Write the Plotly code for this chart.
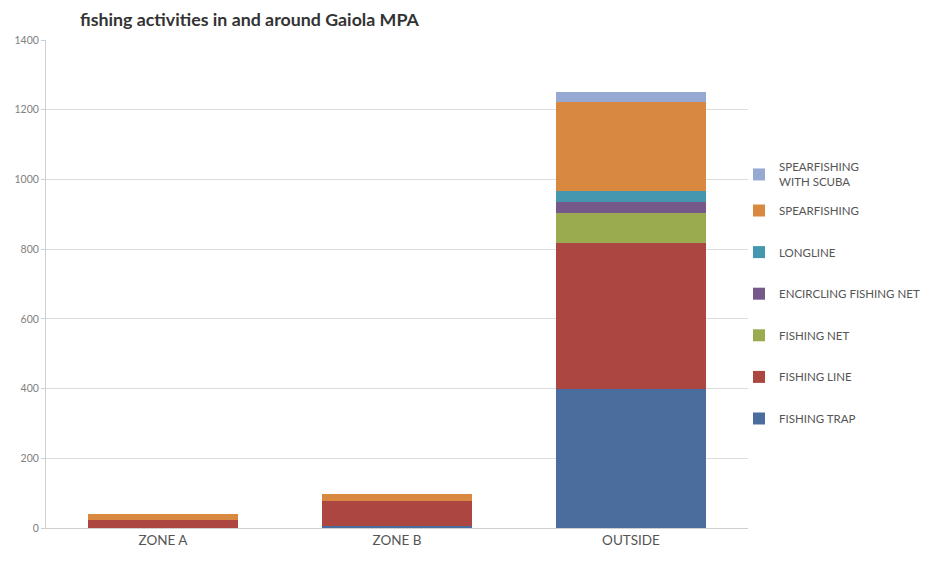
import plotly.graph_objects as go

categories = ["ZONE A", "ZONE B", "OUTSIDE"]

fishing_trap = [0, 6, 398]
fishing_line = [24, 72, 420]
fishing_net = [0, 0, 86]
encircling_net = [0, 0, 30]
longline = [0, 0, 32]
spearfishing = [15, 19, 257]
spearfishing_scuba = [0, 0, 27]

y_ticks = [0, 200, 400, 600, 800, 1000, 1200, 1400]

series = [
    ("FISHING TRAP", fishing_trap, "#4a6d9e"),
    ("FISHING LINE", fishing_line, "#ac4641"),
    ("FISHING NET", fishing_net, "#9aaa4e"),
    ("ENCIRCLING FISHING NET", encircling_net, "#76598a"),
    ("LONGLINE", longline, "#4597b0"),
    ("SPEARFISHING", spearfishing, "#d98840"),
    ("SPEARFISHING<br>WITH SCUBA", spearfishing_scuba, "#96a9d2"),
]

# page body has an 8px margin; compensate so the plot lands where the reference has it
OFF = 8
L, R_EDGE, T, B_EDGE = 46 - OFF, 748 - OFF, 40 - OFF, 528 - OFF
W, H = 935, 562
PW, PH = R_EDGE - L, B_EDGE - T

fig = go.Figure()
n = len(series)
for i, (name, vals, col) in enumerate(series):
    fig.add_trace(go.Bar(
        x=categories, y=vals, name=name, marker_color=col,
        marker_line_width=0, legendgroup=str(i), legendrank=n - i,
        legend="legend" if i == n - 1 else "legend2",
    ))

legend_x = (771 - 40 - L) / PW
leg_common = dict(x=legend_x, xanchor="left", yanchor="top",
                  traceorder="grouped", tracegroupgap=22.6,
                  font=dict(size=11.5, color="#555555", family="Lato"),
                  itemwidth=30, bgcolor="rgba(0,0,0,0)")

fig.update_layout(
    width=W, height=H,
    barmode="stack", bargap=0.36,
    paper_bgcolor="white", plot_bgcolor="white",
    margin=dict(l=L, r=W - R_EDGE, t=T, b=H - B_EDGE, pad=0, autoexpand=False),
    font=dict(family="Lato", color="#555555", size=11),
    title=dict(text="<b>fishing activities in and around Gaiola MPA</b>",
               x=(80 - OFF) / W, xanchor="left", xref="container",
               y=1 - (19.5 - OFF) / H, yanchor="middle", yref="container",
               font=dict(size=17.8, color="#333333", family="Lato")),
    legend=dict(y=(B_EDGE - (153 - OFF)) / PH, **leg_common),
    legend2=dict(y=(B_EDGE - (196 - OFF)) / PH, **leg_common),
    showlegend=True,
)
fig.update_yaxes(range=[0, 1400], tickvals=y_ticks, showgrid=True,
                 gridcolor="#dcdcdc", gridwidth=1, showline=True,
                 linecolor="#cfcfcf", ticks="outside", ticklen=4,
                 tickcolor="#cfcfcf", tickfont=dict(size=10.5, color="#808080"),
                 zeroline=False)
fig.update_xaxes(showline=True, linecolor="#cfcfcf", ticks="",
                 tickfont=dict(size=13.5, color="#555555"))

fig.write_html("out.html")
